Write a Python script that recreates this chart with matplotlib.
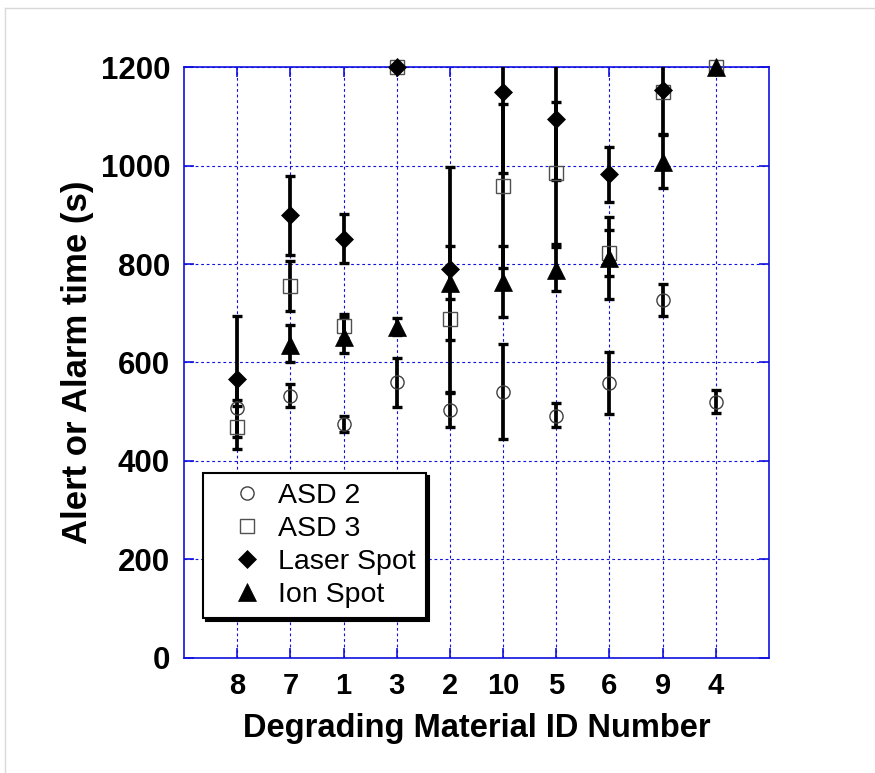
import numpy as np
import matplotlib
matplotlib.use('Agg')
import matplotlib.pyplot as plt
from matplotlib.lines import Line2D

plt.rcParams['font.family'] = ['Liberation Sans', 'DejaVu Sans']

nan = np.nan
cats = ['8', '7', '1', '3', '2', '10', '5', '6', '9', '4']

asd2 = [507, 532, 475, 560, 503, 541, 492, 559, 727, 520]
asd2_lo = [449, 510, 458, 509, 468, 444, 468, 496, 695, 497]
asd2_hi = [565, 556, 491, 610, 537, 637, 517, 622, 759, 544]

asd3 = [468, 755, 674, 1200, 688, 959, 985, 822, 1149, 1200]
asd3_lo = [425, 704, 649, nan, 646, 793, 840, 775, nan, nan]
asd3_hi = [511, 806, 699, nan, 730, 1125, 1130, 869, nan, nan]

laser = [566, 899, 852, 1200, 790, 1149, 1094, 983, 1154, nan]
laser_lo = [524, 818, 802, nan, 541, 985, 971, 927, 1064, nan]
laser_hi = [695, 980, 902, nan, 998, 1313, 1217, 1039, 1244, nan]

ion = [nan, 636, 652, 673, 762, 764, 788, 812, 1008, 1200]
ion_lo = [nan, 600, 620, 655, 749, 692, 746, 729, 954, nan]
ion_hi = [nan, 676, 693, 690, 837, 836, 834, 895, 1062, nan]

series = [
    ('ASD 2', asd2, asd2_lo, asd2_hi, dict(marker='o', ms=9.5, mfc='none', mec='#404040', mew=1.0)),
    ('ASD 3', asd3, asd3_lo, asd3_hi, dict(marker='s', ms=9.5, mfc='none', mec='#505050', mew=1.0)),
    ('Laser Spot', laser, laser_lo, laser_hi, dict(marker='D', ms=8.8, mfc='black', mec='black', mew=0.5)),
    ('Ion Spot', ion, ion_lo, ion_hi, dict(marker='^', ms=12.5, mfc='black', mec='black', mew=0.5)),
]

blue = '#1010e0'
fig = plt.figure(figsize=(8.75, 7.73), dpi=100)
ax = fig.add_axes([0.2103, 0.1492, 0.6686, 0.7637])
x = np.arange(1, len(cats) + 1)

# error bars first, markers on top
for name, vals, lo, hi, st in series:
    v = np.array(vals, float)
    err = np.array([v - np.array(lo, float), np.array(hi, float) - v])
    ax.errorbar(x, v, yerr=err, fmt='none', ecolor='black', elinewidth=2.7,
                capsize=3.8, capthick=2.4, zorder=3)

handles = []
for name, vals, lo, hi, st in series:
    ln, = ax.plot(x, vals, linestyle='none', label=name, zorder=4, clip_on=False, **st)
    handles.append(ln)

ax.set_xlim(0, 11)
ax.set_ylim(0, 1200)
ax.set_xticks(x)
ax.set_xticklabels(cats)
ax.set_yticks(np.arange(0, 1201, 200))

ax.grid(True, color=blue, linestyle=(0, (2.5, 2.5)), linewidth=0.8)
ax.set_axisbelow(True)
for s in ax.spines.values():
    s.set_color(blue)
    s.set_linewidth(1.2)
ax.tick_params(direction='in', length=7, width=1.2, color=blue,
               top=True, right=True, pad=10)
ax.tick_params(axis='y', labelsize=22.5)
ax.tick_params(axis='x', labelsize=21)
for lab in ax.get_xticklabels() + ax.get_yticklabels():
    lab.set_fontweight('bold')

ax.set_xlabel('Degrading Material ID Number', fontsize=23.5, fontweight='bold', labelpad=10)
ax.set_ylabel('Alert or Alarm time (s)', fontsize=25, fontweight='bold', labelpad=5)

leg = ax.legend(handles=handles, loc='upper left', bbox_to_anchor=(0.0325, 0.313),
                borderaxespad=0, fontsize=20.5, frameon=True, fancybox=False,
                framealpha=1, edgecolor='black', handletextpad=-0.1,
                labelspacing=0.25, borderpad=0.35, handlelength=2.4,
                shadow={'color': 'black', 'alpha': 1})
leg.get_frame().set_linewidth(1.5)

# light outer frame
fig.add_artist(Line2D([5 / 875, 1], [1 - 8 / 773, 1 - 8 / 773], color='#d9d9d9', lw=1))
fig.add_artist(Line2D([5 / 875, 5 / 875], [0, 1 - 8 / 773], color='#d9d9d9', lw=1))

fig.savefig('out.png', dpi=100)
